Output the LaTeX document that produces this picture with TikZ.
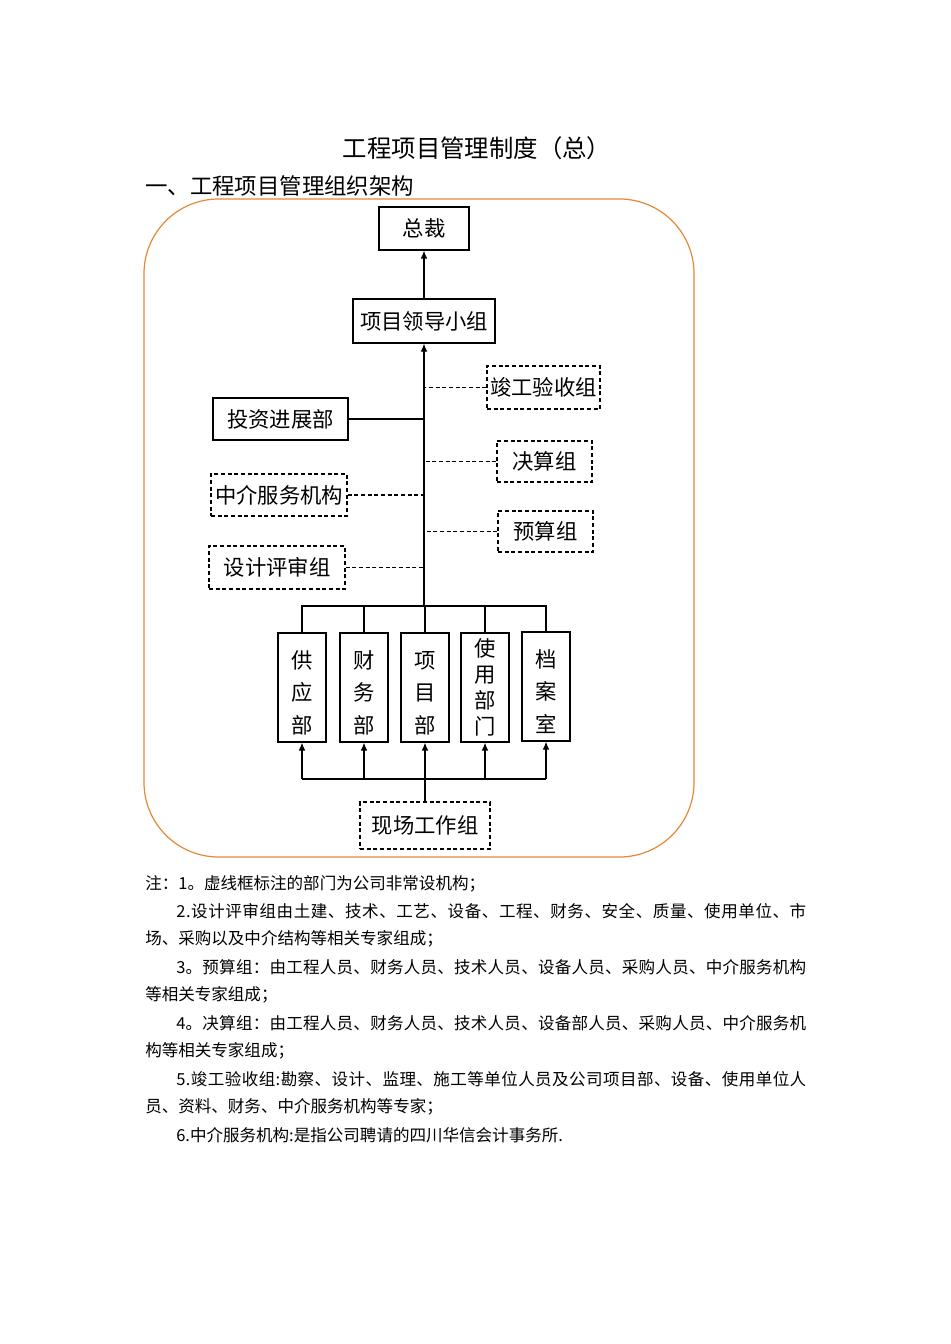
\documentclass[tikz,border=0pt]{standalone}
\usepackage{fontspec}
\setmainfont{Noto Sans CJK SC}
\usetikzlibrary{arrows.meta}
\definecolor{frameorange}{RGB}{228,137,52}
\newcommand{\fsz}[1]{\fontsize{#1pt}{#1pt}\selectfont}
\def\spreadfirst#1{#1\spreadrest}
\def\spreadrest#1{\ifx#1\relax\else\hfil#1\expandafter\spreadrest\fi}
\newcommand{\jline}[1]{\hbox to 472.5pt{\spreadfirst#1\relax}}
\tikzset{
  wh/.style 2 args={minimum width=#1*0.75pt,minimum height=#2*0.75pt},
  box/.style={draw, line width=0.9pt, inner sep=0pt, font=\fsz{16}},
  dbox/.style={box, dash pattern=on 3pt off 2pt},
  vbox/.style={box, align=center},
  con/.style={line width=0.9pt},
  dcon/.style={line width=0.9pt, dash pattern=on 3pt off 2pt},
  arr/.style={con, -{Latex[length=6pt,width=5pt]}},
  note/.style={anchor=west, inner sep=0pt, font=\fsz{12.4}},
}
\begin{document}
\begin{tikzpicture}[x=0.75pt,y=-0.75pt]
\useasboundingbox (0,0) rectangle (950,1344);
% title
\node[inner sep=0pt, font=\fsz{18.3}] (title) at (477,148) {工程项目管理制度（总）};
\node[inner sep=0pt, anchor=west, font=\fsz{16.8}] (head) at (145,186) {一、工程项目管理组织架构};
% frame
\draw[frameorange, line width=0.9pt, rounded corners=56pt] (144,199) rectangle (694,857);
% nodes
\node[box, wh={90}{43}] (zc) at (424,228.5) {总裁};
\node[box, wh={142}{44}] (xm) at (424,321) {项目领导小组};
\node[dbox, wh={113}{43}] (jg) at (543.5,387.5) {竣工验收组};
\node[box, wh={135}{42}] (tz) at (280.5,419) {投资进展部};
\node[dbox, wh={95}{41}] (js) at (544.5,461.5) {决算组};
\node[dbox, wh={136}{42}] (zj) at (279,495) {中介服务机构};
\node[dbox, wh={95}{41}] (ys) at (545.5,531.5) {预算组};
\node[dbox, wh={136}{43}] (sj) at (277,567.5) {设计评审组};
\coordinate (tb) at (424,606);
\node[vbox, wh={48}{109}] (gy) at (302,687.5) {\rule{0pt}{21pt}供\\[8.5pt]应\\[8.5pt]部};
\node[vbox, wh={48}{109}] (cw) at (364,687.5) {\rule{0pt}{21pt}财\\[8.5pt]务\\[8.5pt]部};
\node[vbox, wh={48}{109}] (xb) at (425,687.5) {\rule{0pt}{21pt}项\\[8.5pt]目\\[8.5pt]部};
\node[vbox, wh={48}{109}] (sy) at (485,687.5) {使\\[3.5pt]用\\[3.5pt]部\\[3.5pt]门};
\node[vbox, wh={48}{109}] (da) at (546,686.5) {\rule{0pt}{21pt}档\\[8.5pt]案\\[8.5pt]室};
\coordinate (bb) at (425,779);
\node[dbox, wh={130}{47}] (xc) at (425,825.5) {现场工作组};
% connectors
\draw[arr] (xm.north) -- (zc.south);
\draw[arr] (tb) -- (xm.south);
\draw[dcon] (jg.west) -- (jg.west -| tb);
\draw[con] (tz.east) -- (tz.east -| tb);
\draw[dcon] (js.west) -- (js.west -| tb);
\draw[dcon] (zj.east) -- (zj.east -| tb);
\draw[dcon] (ys.west) -- (ys.west -| tb);
\draw[dcon] (sj.east) -- (sj.east -| tb);
\draw[con] (gy.north) -- (gy.north |- tb) -- (da.north |- tb) -- (da.north);
\draw[con] (cw.north) -- (cw.north |- tb);
\draw[con] (xb.north) -- (xb.north |- tb);
\draw[con] (sy.north) -- (sy.north |- tb);
\draw[con] (xc.north) -- (bb);
\draw[con] (gy.south |- bb) -- (da.south |- bb);
\draw[arr] (gy.south |- bb) -- (gy.south);
\draw[arr] (cw.south |- bb) -- (cw.south);
\draw[arr] (xb.south |- bb) -- (xb.south);
\draw[arr] (sy.south |- bb) -- (sy.south);
\draw[arr] (da.south |- bb) -- (da.south);
% notes
\node[note] (n1) at (145,884) {注：1。虚线框标注的部门为公司非常设机构；};
\node[note] (n2) at (176,911) {\jline{2.设计评审组由土建、技术、工艺、设备、工程、财务、安全、质量、使用单位、市}};
\node[note] (n3) at (145,939) {场、采购以及中介结构等相关专家组成；};
\node[note] (n4) at (176,967) {\jline{3。预算组：由工程人员、财务人员、技术人员、设备人员、采购人员、中介服务机构}};
\node[note] (n5) at (145,995) {等相关专家组成；};
\node[note] (n6) at (176,1023) {\jline{4。决算组：由工程人员、财务人员、技术人员、设备部人员、采购人员、中介服务机}};
\node[note] (n7) at (145,1051) {构等相关专家组成；};
\node[note] (n8) at (176,1079) {\jline{5.竣工验收组:勘察、设计、监理、施工等单位人员及公司项目部、设备、使用单位人}};
\node[note] (n9) at (145,1107) {员、资料、财务、中介服务机构等专家；};
\node[note] (n10) at (176,1135) {6.中介服务机构:是指公司聘请的四川华信会计事务所.};
\end{tikzpicture}
\end{document}
